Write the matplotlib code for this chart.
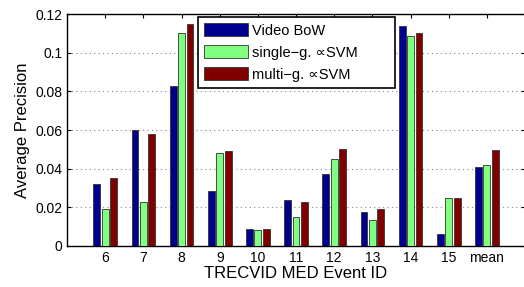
import numpy as np
import matplotlib
matplotlib.use("Agg")
from matplotlib import pyplot as plt

plt.rcParams['font.family'] = ['Liberation Sans', 'DejaVu Sans']

# Data
event_ids = ["6", "7", "8", "9", "10", "11", "12", "13", "14", "15", "mean"]
video_bow = [0.032, 0.060, 0.083, 0.0285, 0.009, 0.024, 0.037, 0.0175, 0.114, 0.006, 0.041]
single_g = [0.019, 0.023, 0.110, 0.048, 0.008, 0.015, 0.045, 0.0135, 0.1088, 0.025, 0.0417]
multi_g = [0.035, 0.058, 0.115, 0.049, 0.009, 0.023, 0.050, 0.019, 0.110, 0.025, 0.0495]
series_names = ["Video BoW", "single\u2212g. \u221dSVM", "multi\u2212g. \u221dSVM"]
colors = ["#00008f", "#80ff80", "#800000"]

fig = plt.figure(figsize=(5.24, 2.87), dpi=100)
ax = fig.add_axes([0.128, 0.143, 0.874, 0.808])

x = np.arange(1, len(event_ids) + 1)
offset = 0.22
width = 0.18
for i, (vals, name, col) in enumerate(zip([video_bow, single_g, multi_g], series_names, colors)):
    ax.bar(x + (i - 1) * offset, vals, width, color=col, edgecolor="#333333",
           linewidth=0.6, label=name, zorder=3)

ax.set_xlim(0, 12)
ax.set_ylim(0, 0.12)
ax.set_xticks(x)
ax.set_xticklabels(event_ids)
ax.set_yticks([0, 0.02, 0.04, 0.06, 0.08, 0.1, 0.12])
ax.set_yticklabels(["0", "0.02", "0.04", "0.06", "0.08", "0.1", "0.12"])
ax.yaxis.grid(True, linestyle=(0, (1, 3)), color="#888888", linewidth=0.8, zorder=0)
ax.tick_params(direction="in", length=3, labelsize=10, top=True, right=True)
for s in ax.spines.values():
    s.set_linewidth(1.0)

ax.set_ylabel("Average Precision", fontsize=12, labelpad=4)
ax.set_xlabel("TRECVID MED Event ID", fontsize=12, labelpad=1)

# legend box spans roughly x 198-394 px, y 17-87 px in the reference
leg = ax.legend(loc="upper left", bbox_to_anchor=(0.286, 0.987, 0.43, 0.0),
                mode="expand", fontsize=10.5,
                handlelength=3.0, handleheight=1.05, labelspacing=0.5,
                handletextpad=0.3, borderpad=0.4, borderaxespad=0, fancybox=False,
                framealpha=1, edgecolor="black")
leg.get_frame().set_linewidth(1.2)

fig.savefig("out.png", dpi=100)
